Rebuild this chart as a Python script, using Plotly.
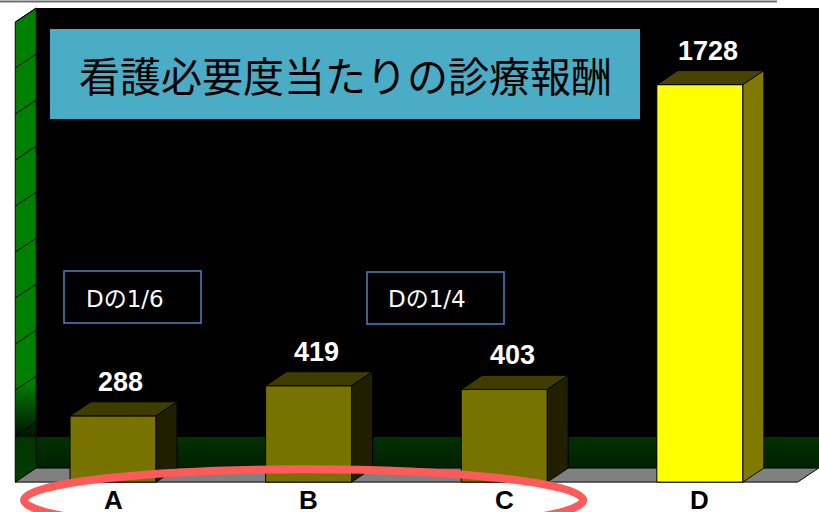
import plotly.graph_objects as go

# ---- data ----
CATEGORIES = ["A", "B", "C", "D"]
VALUES = [288, 419, 403, 1728]
TITLE = "看護必要度当たりの診療報酬"
NOTES = ["Dの1/6", "Dの1/4"]
GRID_STEP = 200
WALL_TOP = 2000

# ---- geometry of the pseudo-3D frame (axis units) ----
W, H = 819, 512
X_RANGE = [-0.578, 3.609]
Y_RANGE = [-130, 2096]
DX, DY = 0.107, 61          # offset of the back plane
BAR_W = 0.44
LEFT, RIGHT = -0.5, 3.5     # floor extent along the category axis
BAND_TOP = 196              # top of the green band on the back wall

FRONT = ["#787300", "#787300", "#787300", "#ffff00"]
TOP = ["#3f3c00", "#3f3c00", "#3f3c00", "#484400"]
SIDE = ["#221f00", "#221f00", "#221f00", "#807b00"]

xs = list(range(len(CATEGORIES)))

fig = go.Figure()

# back wall
fig.add_trace(go.Scatter(
    x=[LEFT + DX, X_RANGE[1] + 0.1, X_RANGE[1] + 0.1, LEFT + DX],
    y=[DY, DY, WALL_TOP + DY, WALL_TOP + DY],
    fill="toself", fillcolor="#000000", mode="lines",
    line=dict(width=0), hoverinfo="skip", showlegend=False))
# green band along the bottom of the back wall
fig.add_trace(go.Scatter(
    x=[LEFT + DX, X_RANGE[1] + 0.1, X_RANGE[1] + 0.1, LEFT + DX],
    y=[DY, DY, BAND_TOP, BAND_TOP],
    fill="toself", mode="lines", line=dict(width=0),
    fillgradient=dict(type="vertical", start=DY, stop=BAND_TOP,
                      colorscale=[[0, "#002000"], [1, "#003200"]]),
    hoverinfo="skip", showlegend=False))
# left wall
fig.add_trace(go.Scatter(
    x=[LEFT, LEFT + DX, LEFT + DX, LEFT, LEFT],
    y=[0, DY, WALL_TOP + DY, WALL_TOP, 0],
    fill="toself", mode="lines", line=dict(color="#000000", width=1),
    fillgradient=dict(type="vertical", start=0, stop=WALL_TOP + DY,
                      colorscale=[[0, "#003c00"], [0.094, "#003600"],
                                  [0.0955, "#001200"], [0.21, "#008000"],
                                  [1, "#008000"]]),
    hoverinfo="skip", showlegend=False))
# grid lines on the left wall
gx, gy = [], []
for v in range(GRID_STEP, WALL_TOP + 1, GRID_STEP):
    gx += [LEFT, LEFT + DX, None]
    gy += [v, v + DY, None]
fig.add_trace(go.Scatter(x=gx, y=gy, mode="lines",
                         line=dict(color="#000000", width=1),
                         hoverinfo="skip", showlegend=False))
# floor
fig.add_trace(go.Scatter(
    x=[LEFT, RIGHT, RIGHT + DX, LEFT + DX, LEFT],
    y=[0, 0, DY, DY, 0],
    fill="toself", fillcolor="#808080", mode="lines",
    line=dict(color="#000000", width=1), hoverinfo="skip", showlegend=False))

# bars: front faces
fig.add_trace(go.Bar(
    x=xs, y=VALUES, width=BAR_W, xaxis="x2", yaxis="y2",
    marker=dict(color=FRONT, line=dict(color="#000000", width=1)),
    hoverinfo="skip", showlegend=False))
# bars: top and side faces
for i, v in zip(xs, VALUES):
    l, r = i - BAR_W / 2, i + BAR_W / 2
    fig.add_trace(go.Scatter(
        x=[l, r, r + DX, l + DX, l], y=[v, v, v + DY, v + DY, v],
        xaxis="x2", yaxis="y2", fill="toself", fillcolor=TOP[i],
        mode="lines", line=dict(color="#000000", width=1),
        hoverinfo="skip", showlegend=False))
    fig.add_trace(go.Scatter(
        x=[r, r + DX, r + DX, r, r], y=[0, DY, v + DY, v, 0],
        xaxis="x2", yaxis="y2", fill="toself", fillcolor=SIDE[i],
        mode="lines", line=dict(color="#000000", width=1),
        hoverinfo="skip", showlegend=False))

annotations = []
# value labels
for i, v in zip(xs, VALUES):
    annotations.append(dict(
        x=i + 0.04, y=v + DY, xref="x", yref="y", text=f"{v}",
        showarrow=False, xanchor="center", yanchor="bottom", yshift=3,
        font=dict(family="Liberation Sans", size=27, color="#ffffff",
                  weight="bold")))
# category labels
for i, c in zip(xs, CATEGORIES):
    annotations.append(dict(
        x=i, y=1 - 500 / H, xref="x", yref="paper", text=c,
        showarrow=False, xanchor="center", yanchor="middle",
        font=dict(family="Liberation Sans", size=26, color="#000000",
                  weight="bold")))
# title
annotations.append(dict(
    x=345 / W, y=1 - 74 / H, xref="paper", yref="paper", text=TITLE,
    showarrow=False, xanchor="center", yanchor="middle",
    font=dict(family="Noto Sans CJK JP", size=41, color="#000000")))
# note boxes text
for nx, txt in zip([84, 386], NOTES):
    annotations.append(dict(
        x=nx / W, y=1 - 299 / H, xref="paper", yref="paper", text=txt,
        showarrow=False, xanchor="left", yanchor="middle",
        font=dict(family="DejaVu Sans, Noto Sans CJK JP", size=23,
                  color="#ffffff")))

shapes = [
    # thin rule along the top edge
    dict(type="line", xref="paper", yref="paper", x0=0, x1=777 / W,
         y0=1 - 1.5 / H, y1=1 - 1.5 / H, line=dict(color="#6e6e6e", width=2)),
    # title box
    dict(type="rect", xref="paper", yref="paper", x0=50 / W, x1=640 / W,
         y0=1 - 119 / H, y1=1 - 29 / H, fillcolor="#4bacc6",
         line=dict(width=0)),
    # note boxes
    dict(type="rect", xref="paper", yref="paper", x0=64 / W, x1=201 / W,
         y0=1 - 323 / H, y1=1 - 271 / H, fillcolor="#000000",
         line=dict(color="#4f81bd", width=1.5)),
    dict(type="rect", xref="paper", yref="paper", x0=367 / W, x1=504 / W,
         y0=1 - 324 / H, y1=1 - 272 / H, fillcolor="#000000",
         line=dict(color="#4f81bd", width=1.5)),
    # highlight ring around A-C
    dict(type="circle", xref="x", yref="y", x0=-0.455, x1=2.403,
         y0=-213, y1=56, line=dict(color="#ff5a5a", width=8)),
]

axis_common = dict(visible=False, showgrid=False, zeroline=False,
                   fixedrange=True)
fig.update_layout(
    width=W, height=H, margin=dict(l=0, r=0, t=0, b=0, pad=0),
    paper_bgcolor="#ffffff", plot_bgcolor="rgba(0,0,0,0)",
    xaxis=dict(range=X_RANGE, **axis_common),
    yaxis=dict(range=Y_RANGE, **axis_common),
    xaxis2=dict(range=X_RANGE, overlaying="x", anchor="y2", **axis_common),
    yaxis2=dict(range=Y_RANGE, overlaying="y", anchor="x2", **axis_common),
    shapes=shapes, annotations=annotations, showlegend=False,
)

fig.write_html("out.html")
